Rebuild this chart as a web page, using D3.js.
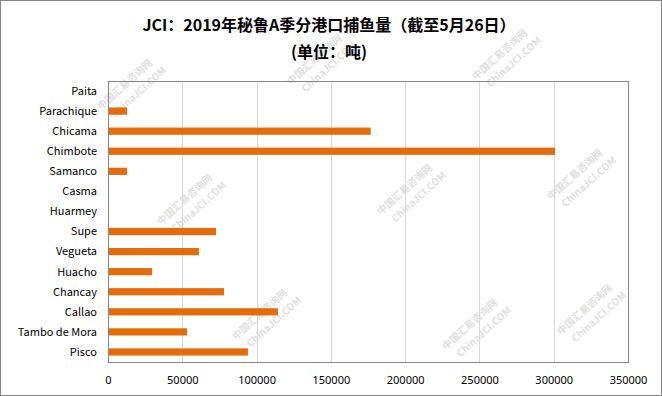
<!DOCTYPE html>
<html>
<head>
<meta charset="utf-8">
<script src="https://cdn.jsdelivr.net/npm/d3@7"></script>
<style>
  body { margin: 0; background: #fff; }
  text { font-family: "Noto Sans CJK SC", "Noto Sans", sans-serif; }
</style>
</head>
<body>
<div id="chart"></div>
<script>
// ports, top to bottom
var ports = ["Paita", "Parachique", "Chicama", "Chimbote", "Samanco", "Casma", "Huarmey",
  "Supe", "Vegueta", "Huacho", "Chancay", "Callao", "Tambo de Mora", "Pisco"];
// catch in tonnes
var catchTons = [0, 12800, 176800, 300900, 12800, 0, 0,
  72700, 61200, 29600, 78100, 114400, 53200, 94200];
var xTicks = [0, 50000, 100000, 150000, 200000, 250000, 300000, 350000];

var titleText = "JCI：2019年秘鲁A季分港口捕鱼量（截至5月26日）";
var subText = "(单位：吨)";

var width = 662, height = 396;
var margin = {top: 81, right: 34, bottom: 34, left: 108};

var svg = d3.select("#chart")
  .append("svg")
  .attr("width", width)
  .attr("height", height);

svg.append("rect")
  .attr("x", 0.5).attr("y", 0.5)
  .attr("width", width - 1).attr("height", height - 1)
  .style("fill", "#fff")
  .style("stroke", "#868686");

// faint watermark text
var marks = [[105, 115], [295, 90], [480, 85], [165, 230], [385, 220], [555, 205],
  [240, 345], [450, 355], [565, 340]];
marks.forEach(function(m) {
  var g = svg.append("g")
    .attr("transform", "translate(" + m[0] + "," + m[1] + ") rotate(-42)")
    .style("opacity", 0.3);
  g.append("text").attr("x", 0).attr("y", -6)
    .style("font-size", "10px").style("fill", "#999")
    .style("font-weight", "bold")
    .text("中国汇易咨询网");
  g.append("text").attr("x", 6).attr("y", 9)
    .style("font-size", "10px").style("fill", "#999")
    .style("font-weight", "bold")
    .text("ChinaJCI.COM");
});

svg.append("text")
  .attr("x", 329).attr("y", 31)
  .attr("text-anchor", "middle")
  .style("font-size", "16px").style("font-weight", "bold").style("fill", "#000")
  .text(titleText);
svg.append("text")
  .attr("x", 329).attr("y", 58)
  .attr("text-anchor", "middle")
  .style("font-size", "16px").style("font-weight", "bold").style("fill", "#000")
  .text(subText);

var plotW = 628 - margin.left, plotH = 362 - margin.top;

var x = d3.scaleLinear().domain([0, 350000]).range([margin.left, margin.left + plotW]);
var y = d3.scaleBand().domain(ports).range([margin.top, margin.top + plotH]).paddingInner(0.64).paddingOuter(0.32);

// gridlines
svg.append("g").selectAll("line")
  .data(xTicks.slice(1, -1))
  .enter().append("line")
  .attr("x1", function(d) { return Math.round(x(d)) + 0.5; })
  .attr("x2", function(d) { return Math.round(x(d)) + 0.5; })
  .attr("y1", margin.top).attr("y2", margin.top + plotH)
  .style("stroke", "#d9d9d9");

// plot border
svg.append("rect")
  .attr("x", margin.left + 0.5).attr("y", margin.top + 0.5)
  .attr("width", plotW).attr("height", plotH)
  .style("fill", "none").style("stroke", "#868686");

// bars
svg.append("g").selectAll("rect")
  .data(catchTons)
  .enter().append("rect")
  .attr("x", x(0) + 1)
  .attr("y", function(d, i) { return y(ports[i]); })
  .attr("width", function(d) { return Math.max(0, x(d) - x(0) - 1); })
  .attr("height", y.bandwidth())
  .style("fill", "#e46c0a");

// y axis line
svg.append("line")
  .attr("x1", margin.left + 0.5).attr("x2", margin.left + 0.5)
  .attr("y1", margin.top).attr("y2", margin.top + plotH + 1)
  .style("stroke", "#868686");

// category labels
svg.append("g").selectAll("text")
  .data(ports)
  .enter().append("text")
  .attr("x", 97)
  .attr("y", function(d) { return y(d) + y.bandwidth() / 2; })
  .attr("dy", "0.35em")
  .attr("text-anchor", "end")
  .style("font-size", "11px").style("fill", "#000")
  .text(function(d) { return d; });

// x tick labels
var xAxis = d3.axisBottom(x).tickValues(xTicks).tickSize(0).tickPadding(0).tickFormat(d3.format("d"));
var gx = svg.append("g")
  .attr("transform", "translate(0," + (margin.top + plotH + 14) + ")")
  .call(xAxis);
gx.select(".domain").remove();
gx.selectAll("text")
  .style("font-size", "11px").style("fill", "#000")
  .style("font-family", "\"Noto Sans\", sans-serif");
</script>
</body>
</html>
